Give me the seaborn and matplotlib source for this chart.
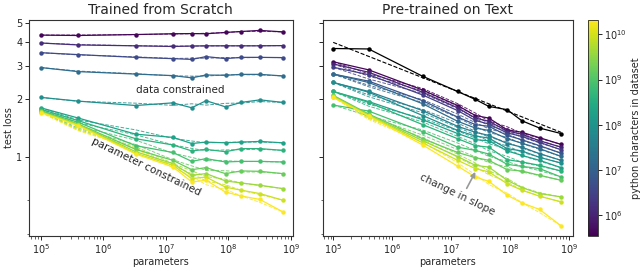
import numpy as np
import pandas as pd
import matplotlib
matplotlib.use('Agg')
import matplotlib.pyplot as plt
import seaborn as sns
from matplotlib.colors import LogNorm
from matplotlib.ticker import NullFormatter

sns.set_style('ticks')
plt.rcParams['font.family'] = ['DejaVu Sans']

# parameters (model size), same grid in both panels
params = [1e5, 4e5, 3.3e6, 1.3e7, 2.6e7, 4.4e7, 9e7, 1.6e8, 3.2e8, 7.4e8]

# ---- Trained from Scratch: one row per dataset size
scratch_sizes = [4e5, 1.3e6, 4e6, 1.6e7, 8e7, 2e8, 4e8, 8e8, 1.6e9, 4e9, 9e9, 2e10]
scratch_loss = [
    [4.32, 4.30, 4.35, 4.39, 4.40, 4.39, 4.46, 4.51, 4.57, 4.49],
    [3.93, 3.84, 3.80, 3.77, 3.79, 3.80, 3.80, 3.80, 3.80, 3.81],
    [3.50, 3.42, 3.31, 3.26, 3.23, 3.34, 3.26, 3.31, 3.31, 3.30],
    [2.93, 2.79, 2.71, 2.66, 2.59, 2.68, 2.67, 2.70, 2.70, 2.65],
    [2.05, 1.96, 1.86, 1.92, 1.81, 1.97, 1.83, 1.93, 1.99, 1.93],
    [1.81, 1.60, 1.32, 1.27, 1.18, 1.20, 1.19, 1.20, 1.21, 1.19],
    [1.78, 1.55, 1.25, 1.16, 1.08, 1.10, 1.07, 1.11, 1.11, 1.087],
    [1.75, 1.52, 1.15, 1.06, 0.953, 0.985, 0.946, 0.953, 0.953, 0.946],
    [1.74, 1.49, 1.10, 0.965, 0.863, 0.884, 0.823, 0.85, 0.846, 0.823],
    [1.73, 1.48, 1.07, 0.927, 0.807, 0.823, 0.754, 0.736, 0.716, 0.688],
    [1.72, 1.47, 1.05, 0.909, 0.775, 0.79, 0.70, 0.675, 0.648, 0.599],
    [1.71, 1.46, 1.04, 0.891, 0.745, 0.76, 0.66, 0.63, 0.604, 0.521],
]

# ---- Pre-trained on Text
text_sizes = [4e5, 1e6, 2.5e6, 6.3e6, 1.6e7, 3.5e7, 8e7, 1.8e8, 4e8, 8e8, 1.6e9, 4e9, 9e9, 2e10]
text_loss = [
    [3.14, 2.85, 2.24, 1.86, 1.65, 1.60, 1.39, 1.35, 1.265, 1.168],
    [3.06, 2.77, 2.18, 1.81, 1.60, 1.54, 1.37, 1.32, 1.22, 1.13],
    [2.94, 2.69, 2.11, 1.75, 1.555, 1.49, 1.34, 1.285, 1.196, 1.096],
    [2.71, 2.49, 1.97, 1.62, 1.48, 1.45, 1.30, 1.235, 1.15, 1.052],
    [2.71, 2.45, 1.90, 1.54, 1.42, 1.38, 1.25, 1.185, 1.11, 1.012],
    [2.45, 2.20, 1.75, 1.45, 1.35, 1.30, 1.18, 1.13, 1.045, 0.965],
    [2.45, 2.18, 1.65, 1.38, 1.29, 1.26, 1.11, 1.08, 1.00, 0.934],
    [2.20, 1.95, 1.57, 1.33, 1.235, 1.22, 1.08, 1.024, 0.965, 0.884],
    [2.20, 1.93, 1.48, 1.25, 1.15, 1.13, 0.973, 0.946, 0.909, 0.849],
    [1.87, 1.74, 1.36, 1.13, 1.087, 1.04, 0.92, 0.898, 0.874, 0.791],
    [2.10, 1.68, 1.25, 1.06, 0.996, 0.965, 0.863, 0.849, 0.807, 0.760],
    [2.08, 1.66, 1.22, 1.01, 0.909, 0.89, 0.76, 0.696, 0.648, 0.623],
    [2.06, 1.65, 1.19, 0.965, 0.874, 0.84, 0.73, 0.675, 0.628, 0.587],
    [2.05, 1.64, 1.16, 0.90, 0.79, 0.75, 0.636, 0.58, 0.536, 0.441],
]
text_only_loss = [3.68, 3.66, 2.64, 2.20, 2.00, 1.84, 1.77, 1.55, 1.42, 1.33]
text_only_fit_x = [1e5, 7.4e8]
text_only_fit_y = [3.96, 1.35]


def to_long(sizes, losses):
    rows = []
    for s, ys in zip(sizes, losses):
        ly = np.log10(ys)
        # smoothed copy for the dashed fit
        sm = ly.copy()
        sm[1:-1] = (ly[:-2] + ly[1:-1] + ly[2:]) / 3
        for p, y, f in zip(params, ys, 10 ** sm):
            rows.append({'params': p, 'loss': y, 'fit': f, 'dataset': s})
    return pd.DataFrame(rows)


df_scratch = to_long(scratch_sizes, scratch_loss)
df_text = to_long(text_sizes, text_loss)

norm = LogNorm(3.4e5, 2.1e10)

fig = plt.figure(figsize=(6.4, 2.77), dpi=100)
ax1 = fig.add_axes([0.045, 0.148, 0.4125, 0.78])
ax2 = fig.add_axes([0.505, 0.148, 0.39, 0.78], sharey=ax1)
cax = fig.add_axes([0.919, 0.148, 0.0156, 0.78])

for ax, d in [(ax1, df_scratch), (ax2, df_text)]:
    sns.lineplot(data=d, x='params', y='fit', hue='dataset', palette='viridis',
                 hue_norm=norm, linestyle='--', linewidth=0.7, alpha=0.85,
                 legend=False, estimator=None, ax=ax)
    sns.lineplot(data=d, x='params', y='loss', hue='dataset', palette='viridis',
                 hue_norm=norm, marker='o', markersize=3.2, markeredgewidth=0,
                 linewidth=0.9, legend=False, estimator=None, ax=ax)

sns.lineplot(x=text_only_fit_x, y=text_only_fit_y, color='black', linestyle='--',
             linewidth=0.8, ax=ax2)
sns.lineplot(x=params, y=text_only_loss, color='black', marker='o', markersize=3.2,
             markeredgewidth=0, linewidth=0.9, ax=ax2)

for ax in (ax1, ax2):
    ax.set_xscale('log')
    ax.set_yscale('log')
    ax.set_xlabel('parameters', fontsize=7, labelpad=1)
    ax.set_ylabel('')
    ax.tick_params(labelsize=7, length=3, width=0.7, pad=1.5)
    ax.tick_params(which='minor', length=1.8, width=0.5)
    for sp in ax.spines.values():
        sp.set_color('#333333')
        sp.set_linewidth(0.8)

ax1.set_xlim(10 ** 4.81, 10 ** 9.03)
ax2.set_xlim(10 ** 4.83, 10 ** 9.07)
ax1.set_yticks([1, 2, 3, 4, 5], ['1', '2', '3', '4', '5'])
ax1.set_yticks([0.4, 0.6], minor=True)
ax1.yaxis.set_minor_formatter(NullFormatter())
ax1.set_ylim(0.39, 5.18)
ax2.tick_params(labelleft=False)
ax1.set_ylabel('test loss', fontsize=7, labelpad=2)

ax1.set_title('Trained from Scratch', fontsize=10, pad=4)
ax2.set_title('Pre-trained on Text', fontsize=10, pad=4)

ax1.text(1.7e7, 2.25, 'data constrained', fontsize=7.5, ha='center', va='center')
ax1.text(4.8e6, 0.89, 'parameter constrained', fontsize=7.5, ha='center',
         va='center', rotation=-26)
ax2.text(1.3e7, 0.64, 'change in slope', fontsize=7.5, ha='center',
         va='center', rotation=-26, color='#333333')
ax2.annotate('', xy=(2.6e7, 0.84), xytext=(1.85e7, 0.69),
             arrowprops=dict(arrowstyle='-|>', color='#999999', lw=1.2,
                             mutation_scale=7, shrinkA=0, shrinkB=0))

sm = plt.cm.ScalarMappable(norm=norm, cmap='viridis')
cb = fig.colorbar(sm, cax=cax)
cb.set_label('python characters in dataset', fontsize=7, labelpad=3)
cb.ax.tick_params(labelsize=7, length=3, width=0.7, pad=1.5)
cb.ax.tick_params(which='minor', length=0)
cb.outline.set_linewidth(0.6)

fig.savefig('out.png', dpi=100)
